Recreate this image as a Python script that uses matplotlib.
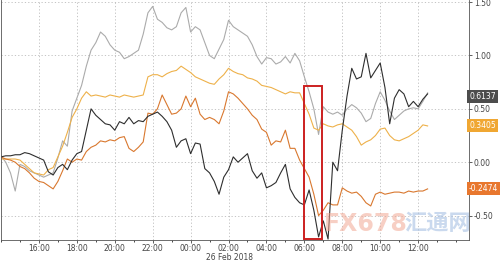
import matplotlib
matplotlib.use("Agg")
import matplotlib.pyplot as plt
import matplotlib.dates as mdates
import matplotlib.transforms as mtransforms
from matplotlib.patches import Rectangle
import pandas as pd

# 15-minute samples from 25 Feb 2018 14:00 to 26 Feb 2018 12:30
times = pd.date_range("2018-02-25 14:00", periods=91, freq="15min")

gray = [0.06, 0.00, -0.10, -0.27, -0.02, -0.04, -0.08, -0.10, -0.12, -0.14,
        -0.12, -0.10, 0.04, 0.20, 0.15, 0.48, 0.60, 0.72, 0.90, 1.05,
        1.12, 1.22, 1.18, 1.10, 1.05, 1.03, 0.97, 0.99, 1.02, 1.05,
        1.20, 1.40, 1.46, 1.34, 1.31, 1.26, 1.24, 1.27, 1.40, 1.45,
        1.22, 1.27, 1.24, 1.12, 1.00, 0.97, 1.06, 1.15, 1.33, 1.27,
        1.24, 1.21, 1.18, 1.10, 0.99, 0.92, 0.98, 0.97, 0.92, 0.94,
        0.99, 0.93, 1.02, 0.95, 0.80, 0.66, 0.50, 0.26, 0.52, 0.47,
        0.45, 0.47, 0.44, 0.50, 0.54, 0.51, 0.46, 0.38, 0.41, 0.55,
        0.66, 0.58, 0.48, 0.40, 0.44, 0.48, 0.50, 0.51, 0.50, 0.57,
        0.65]

dark = [0.05, 0.06, 0.06, 0.07, 0.07, 0.09, 0.08, 0.06, 0.04, 0.02,
        -0.09, -0.12, -0.05, -0.02, -0.07, 0.02, 0.08, 0.10, 0.30, 0.50,
        0.44, 0.40, 0.36, 0.35, 0.30, 0.38, 0.36, 0.42, 0.36, 0.39,
        0.38, 0.43, 0.45, 0.47, 0.43, 0.38, 0.30, 0.14, 0.20, 0.22,
        0.08, 0.18, 0.17, -0.06, -0.10, -0.18, -0.30, -0.14, -0.07, 0.05,
        0.00, 0.04, 0.08, -0.08, -0.15, -0.10, -0.24, -0.22, -0.19, -0.10,
        -0.02, -0.25, -0.33, -0.38, -0.40, -0.26, -0.45, -0.70, -0.55, -0.72,
        0.00, -0.08, 0.30, 0.62, 0.88, 0.78, 0.80, 1.02, 0.79, 0.86,
        0.93, 0.70, 0.36, 0.60, 0.68, 0.64, 0.52, 0.57, 0.52, 0.59,
        0.64]

orange = [0.05, 0.03, 0.02, 0.00, -0.04, -0.06, -0.10, -0.15, -0.18, -0.19,
          -0.22, -0.25, -0.18, -0.08, 0.03, 0.00, 0.03, 0.02, 0.10, 0.14,
          0.16, 0.20, 0.19, 0.21, 0.20, 0.23, 0.24, 0.13, 0.10, 0.14,
          0.19, 0.46, 0.45, 0.50, 0.63, 0.54, 0.45, 0.46, 0.50, 0.62,
          0.52, 0.60, 0.45, 0.40, 0.42, 0.40, 0.36, 0.48, 0.66, 0.64,
          0.60, 0.55, 0.50, 0.44, 0.40, 0.31, 0.28, 0.16, 0.20, 0.19,
          0.30, 0.13, 0.13, 0.02, -0.06, -0.14, -0.30, -0.50, -0.45, -0.38,
          -0.40, -0.40, -0.24, -0.27, -0.29, -0.28, -0.32, -0.38, -0.41, -0.30,
          -0.28, -0.30, -0.29, -0.28, -0.28, -0.29, -0.27, -0.28, -0.27, -0.27,
          -0.25]

yellow = [0.03, 0.03, 0.03, 0.03, 0.02, -0.02, -0.06, -0.10, -0.11, -0.12,
          -0.07, -0.05, 0.05, 0.15, 0.28, 0.42, 0.50, 0.60, 0.66, 0.62,
          0.63, 0.62, 0.61, 0.63, 0.62, 0.61, 0.63, 0.62, 0.61, 0.62,
          0.63, 0.80, 0.82, 0.82, 0.80, 0.83, 0.85, 0.86, 0.90, 0.87,
          0.84, 0.80, 0.78, 0.76, 0.74, 0.73, 0.78, 0.82, 0.88, 0.85,
          0.83, 0.82, 0.79, 0.78, 0.76, 0.72, 0.71, 0.70, 0.68, 0.66,
          0.64, 0.66, 0.65, 0.65, 0.55, 0.45, 0.32, 0.30, 0.36, 0.34,
          0.33, 0.35, 0.36, 0.33, 0.30, 0.24, 0.16, 0.19, 0.21, 0.25,
          0.31, 0.32, 0.25, 0.21, 0.20, 0.22, 0.24, 0.27, 0.30, 0.35,
          0.34]

xtick_times = pd.date_range("2018-02-25 16:00", "2018-02-26 12:00", freq="2h")
last_labels = ["0.6137", "0.3405", "-0.2474"]
last_values = [0.6137, 0.3405, -0.2474]
label_colors = ["#4d4d4d", "#f0a732", "#e8772e"]

fig = plt.figure(figsize=(5, 2.61), dpi=100)
ax = fig.add_axes([0.002, 0.08, 0.936, 0.92])

ax.plot(times, gray, color="#ababab", lw=0.8)
ax.plot(times, yellow, color="#eeb14a", lw=0.8)
ax.plot(times, orange, color="#d9782f", lw=0.8)
ax.plot(times, dark, color="#2e2e2e", lw=0.8)

ax.set_xlim(pd.Timestamp("2018-02-25 14:00"), pd.Timestamp("2018-02-26 14:41"))
ax.set_ylim(-0.73, 1.52)

ax.set_xticks(xtick_times)
ax.xaxis.set_minor_locator(mdates.HourLocator())
ax.xaxis.set_major_formatter(mdates.DateFormatter("%H:%M"))
ax.yaxis.tick_right()
ax.set_yticks([-0.5, 0.0, 0.5, 1.0, 1.5])
ax.set_yticklabels(["-0.50", "0.00", "0.50", "1.00", "1.50"])
ax.tick_params(axis="both", labelsize=5.5, colors="#444444", length=2, width=0.6, pad=1.5)
ax.tick_params(axis="x", pad=1)
ax.tick_params(axis="x", which="minor", length=1.5, width=0.5)

ax.grid(True, color="#bbbbbb", linestyle=(0, (1.5, 2.5)), linewidth=0.6)
ax.spines["top"].set_visible(False)
for side in ["left", "bottom", "right"]:
    ax.spines[side].set_color("#555555")
    ax.spines[side].set_linewidth(0.6)

# highlight box
t0 = mdates.date2num(pd.Timestamp("2018-02-26 06:00"))
t1 = mdates.date2num(pd.Timestamp("2018-02-26 06:57"))
ax.add_patch(Rectangle((t0, -0.72), t1 - t0, 1.43, fill=False,
                       edgecolor="#cc2020", linewidth=1.4, zorder=5))

# last value labels
trans = mtransforms.blended_transform_factory(ax.transAxes, ax.transData)
for lab, val, c in zip(last_labels, last_values, label_colors):
    ax.text(1.0, val, lab, transform=trans, ha="left", va="center", fontsize=5.5,
            color="white", bbox=dict(boxstyle="square,pad=0.25", fc=c, ec="none"))

fig.text(229 / 500, 1 - 257 / 261, "26 Feb 2018", ha="center", va="center",
         fontsize=5.5, color="#444444")

# watermark
fig.text(324 / 500, 1 - 224 / 261, "FX678", fontsize=17, color="#f2a894", alpha=0.55,
         ha="left", va="center", fontweight="bold")
fig.text(404 / 500, 1 - 224 / 261, "汇通网", fontsize=16, color="#9fbbe0", alpha=0.55,
         ha="left", va="center", family=["Noto Sans CJK SC", "DejaVu Sans"], fontweight="bold")

fig.savefig("out.png", dpi=100)
